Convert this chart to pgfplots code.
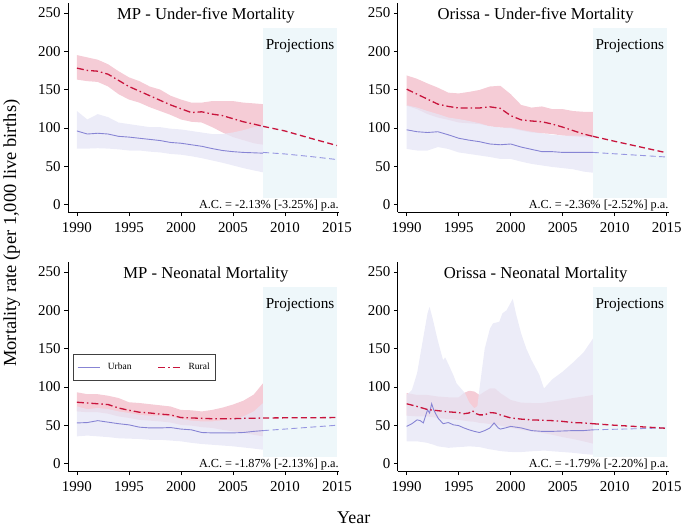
\documentclass[border=0pt]{standalone}
\usepackage{fontspec}
\setmainfont{Liberation Serif}
\usepackage{pgfplots}
\pgfplotsset{compat=1.18}
\usepackage{pgfplotstable}
\usepgfplotslibrary{fillbetween}

\definecolor{ruralc}{RGB}{200,20,60}
\definecolor{pinkc}{RGB}{245,204,214}
\definecolor{urbanc}{RGB}{135,132,212}
\definecolor{urbanpc}{RGB}{150,150,225}
\definecolor{lavc}{RGB}{230,230,246}
\definecolor{projc}{RGB}{238,247,250}

% MP under-five
\pgfplotstableread{
x uhi ulo u rhi rlo r
1990 122 73 96 195 163 178
1991 111 73 92 192 161 175
1992 118 73.5 93 189 160 174
1993 114 73 92 183 154 170
1994 107 72 89 174 144 162
1995 105 70.5 88 166 137 154
1996 103 70.5 86.5 161 133 148
1997 101 69 85 154 127 142
1998 101 68 83.5 150 122 136
1999 99 66 81 142 117 130
2000 98 65 80 137 111 125
2001 96 63 78 133 108 120
2002 94 60.5 76 133 107 121
2003 92 57.5 73 135 101 118
2004 92 54.5 70.5 135 94 116
2005 94 51 69 135 88 112
2006 97 47.5 68 133 84 108
2007 101 44.5 67.5 132 80 105
2007.9 104 42 67 131 78 102
}\tl
% Orissa under-five
\pgfplotstableread{
x uhi ulo u rhi rlo r
1990 129.5 72.5 97.5 168.5 129 150.5
1991 126.5 70.5 95 164 124.5 144
1992 122 70.5 94 158 118 137.5
1993 118 75 95 152.5 113.5 131
1994 113.5 72.5 91 146 110.5 128
1995 111.5 68 86.5 145 107 126
1996 109 66 84 147 106 126
1997 106 64 82 149.5 105 126
1998 102 62 79 154 102 127.5
1999 100.5 59.5 78 155 100.5 125.5
2000 100.5 59.5 79 144 99.5 116
2001 97.5 56 75 130 96.5 110.5
2002 95 53 72 126.5 94 109
2003 93 51 69 128 93 108
2004 91 49 69 124.5 92 105
2005 90 47.5 68 124.5 90 101
2006 90 46 68 122 89 96.5
2007 90 43 68 121 88 92
2007.9 90 41.5 68 121 87 89
}\tr
% MP neonatal
\pgfplotstableread{
x uhi ulo u rhi rlo r
1990 74.5 35.5 53 93 68 80
1991 71 36.5 53.5 90.5 67 79
1992 72.5 35.5 56 90.5 67 78
1993 71 34.5 54 88.5 65 77
1994 68 33 52 85.5 61.5 72.5
1995 66 32.5 50.5 80 59.5 69.5
1996 63.5 32 47.5 79 57 67
1997 62.5 31 46.5 77.5 56 66
1998 62.5 31 46.5 76 55 64.5
1999 61.5 30 47 74.5 53.5 63.5
2000 58 29 45 70 50.5 60
2001 56 27 44 69.5 49.5 59.5
2002 55 25.5 40.5 68 47.5 59
2003 55 24.5 40 70 46.5 58.5
2004 56.5 23.5 40 73 44 58.5
2005 58 22.5 40 77 42 58.5
2006 61.5 21 40.5 82 40 59
2007 68 19.5 42 90 37.5 59
2007.9 79 18 43 105 35.5 59.5
}\bl
% Orissa neonatal: rural band
\pgfplotstableread{
x rhi rlo
1990 92 62.5
1991 89.5 61.5
1992 89.5 61.5
1993 87.5 59.5
1994 86.5 58
1995 86.5 57
1995.5 92 56
1996 95 55
1996.5 94 54.5
1997 89.5 53
1997.5 94 52.5
1998 98 51.5
1998.5 98 50.5
1999 92 49.5
2000 83 46.5
2001 79.5 44
2002 79 42
2003 79 40
2004 81 37.5
2005 83 34.5
2006 85.5 32
2007 87.5 29
2007.9 89.5 26
}\brrb
% Orissa neonatal: urban band
\pgfplotstableread{
x uhi ulo
1990 89.5 29
1990.5 96 29
1991 118 29
1991.5 157 28
1992 196 27
1992.2 204.5 26
1992.5 189 25
1993 160 22.5
1993.5 135 21.5
1993.7 138.5 21.2
1994 130 20.5
1994.5 115 21
1994.8 104.5 21.3
1995.6 92 22
1996 80 22.5
1996.5 72 22
1996.8 75 21.8
1997 98 21.5
1997.5 150 20
1998 176 18.5
1998.3 183 18
1998.9 185 16.5
1999.2 196 16
1999.6 200 15.5
2000.2 215 15
2000.5 196 15
2001 170 15
2001.5 150 15.5
2002 135 16
2002.75 116 16.5
2003.2 98 17
2004 110 16
2005 120 15
2006 132 14
2007 145 12.5
2007.9 163 11.5
}\brub
% Orissa neonatal: rural line
\pgfplotstableread{
x r
1990 78
1991 74.5
1992 70.5
1993 69
1994 67.5
1995 66.5
1995.5 65
1996 66
1996.3 69
1996.7 65
1997 63.5
1997.5 63.5
1998 66.5
1998.5 66
1999 63.5
2000 59.5
2001 58
2002 57
2003 56.5
2004 56
2005 55
2006 53.5
2007 53
2007.9 52
}\brr
% Orissa neonatal: urban line
\pgfplotstableread{
x u
1990 48.5
1990.5 52
1991 57
1991.3 56
1991.6 53
1992 70
1992.2 66
1992.4 78
1992.6 70
1993 59.5
1993.5 52
1994 53.5
1994.5 50.5
1995 49.5
1995.5 46.5
1996 44
1996.5 42
1997 40.5
1997.5 43
1998 46.5
1998.4 53
1998.8 46.5
1999 45
1999.5 46.5
2000 48.5
2000.5 47.5
2001 46.5
2002 43
2003 42
2004 42
2005 42.5
2006 43
2007 43
2007.9 44
}\bru

\pgfplotsset{
  panel/.style={
    scale only axis, width=272pt, height=210pt,
    xmin=1989.14, xmax=2015.19, ymin=-10, ymax=263,
    axis lines=left, axis line style={-, line width=0.6pt, black},
    xtick={1990,1995,2000,2005,2010,2015}, ytick={0,50,100,150,200,250},
    tick align=outside, major tick length=4pt,
    tick style={black, line width=0.6pt},
    tick label style={font=\fontsize{15}{15}\selectfont},
    xticklabel style={yshift=-3pt},
    /pgf/number format/assume math mode=true,
    /pgf/number format/set thousands separator={},
    clip=false,
  },
  ruralst/.style={ruralc, line width=1.3pt, dash pattern=on 7pt off 3pt on 1.5pt off 3pt},
  ruralpst/.style={ruralc, line width=1.3pt, dash pattern=on 6pt off 3.5pt},
  urbanst/.style={urbanc, line width=0.9pt},
  urbanpst/.style={urbanpc, line width=0.9pt, dash pattern=on 6pt off 3.5pt},
}
\tikzset{
  titlest/.style={anchor=base, font=\fontsize{16.7}{17}\selectfont},
  projst/.style={anchor=base, font=\fontsize{15.3}{16}\selectfont},
  acst/.style={anchor=base east, font=\fontsize{12.3}{13}\selectfont},
}

\begin{document}
\begin{tikzpicture}
\path (0,0) rectangle (685pt,531pt);

% ---------------- Top-left
\begin{axis}[panel, at={(67pt,318pt)}, anchor=south west]
\addplot[fill=projc, draw=none, forget plot] coordinates {(2007.9,8) (2015,8) (2015,230) (2007.9,230)} -- cycle;
\addplot[name path=rh, draw=none, forget plot] table[x=x,y=rhi]{\tl};
\addplot[name path=rl, draw=none, forget plot] table[x=x,y=rlo]{\tl};
\addplot[fill=pinkc, draw=none, forget plot] fill between[of=rh and rl];
\addplot[name path=uh, draw=none, forget plot] table[x=x,y=uhi]{\tl};
\addplot[name path=ul, draw=none, forget plot] table[x=x,y=ulo]{\tl};
\addplot[fill=lavc, fill opacity=0.75, draw=none, forget plot] fill between[of=uh and ul];
\addplot[urbanst] table[x=x,y=u]{\tl};
\addplot[ruralst] table[x=x,y=r]{\tl};
\addplot[urbanpst] coordinates {(2007.9,68) (2010,66) (2012.5,62.6) (2015,58.7)};
\addplot[ruralpst] coordinates {(2007.9,102) (2010,96) (2012.5,86.3) (2015,77)};
\node[titlest] at (axis cs:2002.4,242) {MP - Under-five Mortality};
\node[projst] at (axis cs:2011.45,202) {Projections};
\node[acst] at (axis cs:2015.5,-5.5) {A.C. = -2.13\% [-3.25\%] p.a.};
\end{axis}

% ---------------- Top-right
\begin{axis}[panel, at={(398pt,318pt)}, anchor=south west]
\addplot[fill=projc, draw=none, forget plot] coordinates {(2007.9,8) (2015,8) (2015,230) (2007.9,230)} -- cycle;
\addplot[name path=rh, draw=none, forget plot] table[x=x,y=rhi]{\tr};
\addplot[name path=rl, draw=none, forget plot] table[x=x,y=rlo]{\tr};
\addplot[fill=pinkc, draw=none, forget plot] fill between[of=rh and rl];
\addplot[name path=uh, draw=none, forget plot] table[x=x,y=uhi]{\tr};
\addplot[name path=ul, draw=none, forget plot] table[x=x,y=ulo]{\tr};
\addplot[fill=lavc, fill opacity=0.75, draw=none, forget plot] fill between[of=uh and ul];
\addplot[urbanst] table[x=x,y=u]{\tr};
\addplot[ruralst] table[x=x,y=r]{\tr};
\addplot[urbanpst] coordinates {(2007.9,68) (2010,66.2) (2012.5,64.1) (2015,62)};
\addplot[ruralpst] coordinates {(2007.9,89) (2010,82.5) (2012.5,75) (2015,67.5)};
\node[titlest] at (axis cs:2002.4,242) {Orissa - Under-five Mortality};
\node[projst] at (axis cs:2011.45,202) {Projections};
\node[acst] at (axis cs:2015.5,-5.5) {A.C. = -2.36\% [-2.52\%] p.a.};
\end{axis}

% ---------------- Bottom-left
\begin{axis}[panel, at={(67pt,58pt)}, anchor=south west,
  legend columns=2,
  legend style={at={(axis description cs:0.018,0.56)}, anchor=north west,
    draw=black!75, line width=0.5pt, font=\fontsize{9.5}{11}\selectfont,
    inner xsep=4pt, inner ysep=7pt,
    /tikz/every odd column/.append style={column sep=5pt},
    /tikz/every even column/.append style={column sep=24pt}},
  legend cell align=left,
  legend image code/.code={\draw[#1] (0pt,0pt) -- (23pt,0pt);}]
\addplot[fill=projc, draw=none, forget plot] coordinates {(2007.9,8) (2015,8) (2015,230) (2007.9,230)} -- cycle;
\addplot[name path=rh, draw=none, forget plot] table[x=x,y=rhi]{\bl};
\addplot[name path=rl, draw=none, forget plot] table[x=x,y=rlo]{\bl};
\addplot[fill=pinkc, draw=none, forget plot] fill between[of=rh and rl];
\addplot[name path=uh, draw=none, forget plot] table[x=x,y=uhi]{\bl};
\addplot[name path=ul, draw=none, forget plot] table[x=x,y=ulo]{\bl};
\addplot[fill=lavc, fill opacity=0.75, draw=none, forget plot] fill between[of=uh and ul];
\addplot[urbanst] table[x=x,y=u]{\bl};
\addlegendentry{Urban}
\addplot[ruralst] table[x=x,y=r]{\bl};
\addlegendentry{Rural}
\addplot[urbanpst, forget plot] coordinates {(2007.9,43) (2010,45) (2012.5,47.5) (2015,50)};
\addplot[ruralpst, forget plot] coordinates {(2007.9,59.5) (2015,60)};
\node[titlest] at (axis cs:2002.4,242) {MP - Neonatal Mortality};
\node[projst] at (axis cs:2011.45,202) {Projections};
\node[acst] at (axis cs:2015.5,-5.5) {A.C. = -1.87\% [-2.13\%] p.a.};
\end{axis}

% ---------------- Bottom-right
\begin{axis}[panel, at={(398pt,58pt)}, anchor=south west]
\addplot[fill=projc, draw=none, forget plot] coordinates {(2007.9,8) (2015,8) (2015,230) (2007.9,230)} -- cycle;
\addplot[name path=rh, draw=none, forget plot] table[x=x,y=rhi]{\brrb};
\addplot[name path=rl, draw=none, forget plot] table[x=x,y=rlo]{\brrb};
\addplot[fill=pinkc, draw=none, forget plot] fill between[of=rh and rl];
\addplot[name path=uh, draw=none, forget plot] table[x=x,y=uhi]{\brub};
\addplot[name path=ul, draw=none, forget plot] table[x=x,y=ulo]{\brub};
\addplot[fill=lavc, fill opacity=0.75, draw=none, forget plot] fill between[of=uh and ul];
\addplot[urbanst] table[x=x,y=u]{\bru};
\addplot[ruralst] table[x=x,y=r]{\brr};
\addplot[urbanpst] coordinates {(2007.9,44) (2015,46.5)};
\addplot[ruralpst] coordinates {(2007.9,52) (2010,50) (2012.5,48) (2015,46)};
\node[titlest] at (axis cs:2002.4,242) {Orissa - Neonatal Mortality};
\node[projst] at (axis cs:2011.45,202) {Projections};
\node[acst] at (axis cs:2015.5,-5.5) {A.C. = -1.79\% [-2.20\%] p.a.};
\end{axis}

\node[rotate=90, font=\fontsize{18.5}{19}\selectfont] at (10.5pt,297pt) {Mortality rate (per 1,000 live births)};
\node[anchor=base, font=\fontsize{18}{19}\selectfont] at (353.8pt,6pt) {Year};
\end{tikzpicture}
\end{document}
